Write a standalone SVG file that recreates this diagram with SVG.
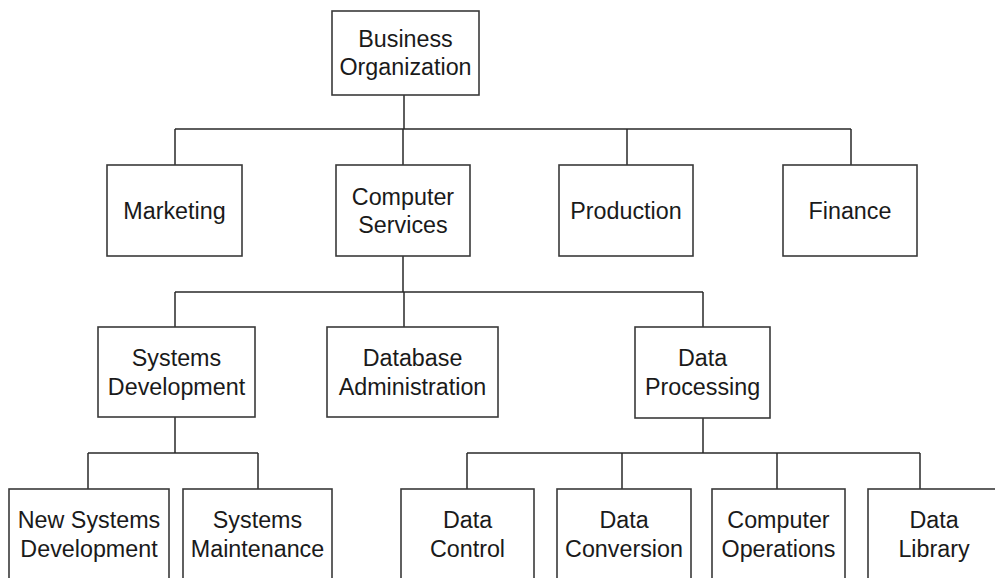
<svg xmlns="http://www.w3.org/2000/svg" width="995" height="578" viewBox="0 0 995 578">
<style>
.box{fill:#fff;stroke:#3a3a3a;stroke-width:1.6}
.ln{fill:none;stroke:#2a2a2a;stroke-width:1.5}
text{font-family:"Liberation Sans",Arial,sans-serif;font-size:23.3px;fill:#1a1a1a;text-anchor:middle}
</style>
<rect width="995" height="578" fill="#fff"/>
<g id="connectors">
<path class="ln" d="M404 95V129M175 129H851M175 129V165M403 129V165M627 129V165M851 129V165"/>
<path class="ln" d="M403 256V292M175 292H703M175 292V327M404 292V327M703 292V327"/>
<path class="ln" d="M175 417V453M88 453H258M88 453V489M258 453V489"/>
<path class="ln" d="M703 418V453M467 453H920M467 453V489M622 453V489M777 453V489M920 453V489"/>
</g>
<g id="business-organization"><rect class="box" x="332" y="11" width="147" height="84"/><text x="405.5" y="47">Business</text><text x="405.5" y="74.5">Organization</text></g>
<g id="marketing"><rect class="box" x="107" y="165" width="135" height="91"/><text x="174.5" y="218.5">Marketing</text></g>
<g id="computer-services"><rect class="box" x="336" y="165" width="134" height="91"/><text x="403" y="205">Computer</text><text x="403" y="233">Services</text></g>
<g id="production"><rect class="box" x="559" y="165" width="134" height="91"/><text x="626" y="218.5">Production</text></g>
<g id="finance"><rect class="box" x="783" y="165" width="134" height="91"/><text x="850" y="218.5">Finance</text></g>
<g id="systems-development"><rect class="box" x="98" y="327" width="157" height="90"/><text x="176.5" y="366">Systems</text><text x="176.5" y="394.5">Development</text></g>
<g id="database-administration"><rect class="box" x="327" y="327" width="171" height="90"/><text x="412.5" y="366">Database</text><text x="412.5" y="394.5">Administration</text></g>
<g id="data-processing"><rect class="box" x="635" y="327" width="135" height="91"/><text x="702.5" y="366">Data</text><text x="702.5" y="394.5">Processing</text></g>
<g id="new-systems-development"><rect class="box" x="9" y="489" width="160" height="110"/><text x="89" y="528">New Systems</text><text x="89" y="556.5">Development</text></g>
<g id="systems-maintenance"><rect class="box" x="183" y="489" width="149" height="110"/><text x="257.5" y="528">Systems</text><text x="257.5" y="556.5">Maintenance</text></g>
<g id="data-control"><rect class="box" x="401" y="489" width="133" height="110"/><text x="467.5" y="528">Data</text><text x="467.5" y="556.5">Control</text></g>
<g id="data-conversion"><rect class="box" x="557" y="489" width="134" height="110"/><text x="624" y="528">Data</text><text x="624" y="556.5">Conversion</text></g>
<g id="computer-operations"><rect class="box" x="712" y="489" width="133" height="110"/><text x="778.5" y="528">Computer</text><text x="778.5" y="556.5">Operations</text></g>
<g id="data-library"><rect class="box" x="868" y="489" width="134" height="110"/><text x="934" y="528">Data</text><text x="934" y="556.5">Library</text></g>
</svg>
